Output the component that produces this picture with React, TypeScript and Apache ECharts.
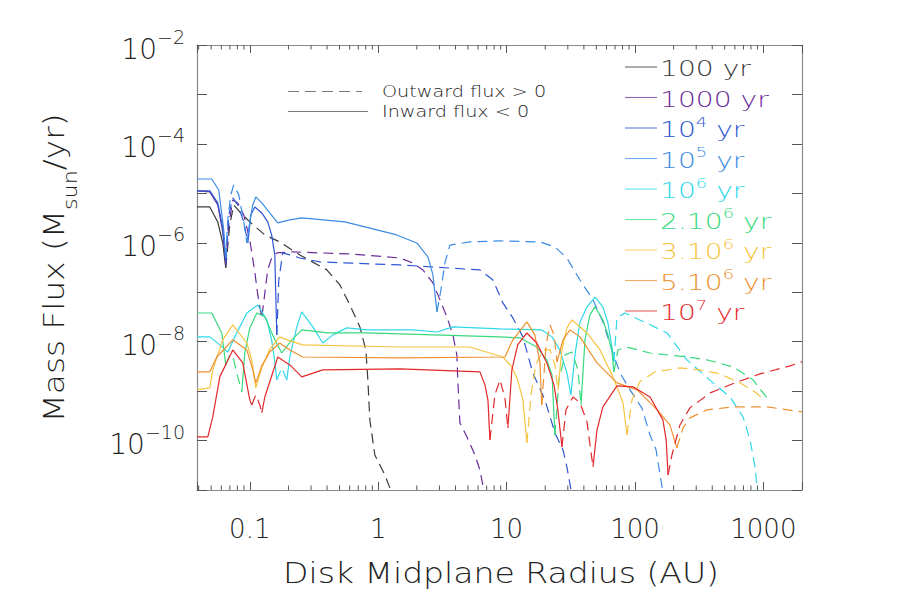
import React, { useEffect, useRef } from 'react';
import * as echarts from 'echarts';

type Pt = [number, number];

// Axis extents (AU, Msun/yr)
const X_MIN = 0.0388;
const X_MAX = 2000;
const Y_MIN = 1e-11;
const Y_MAX = 1e-2;

// Tick labels
const xTickLabels = ['0.1', '1', '10', '100', '1000'];
const yLabelExponents = [-2, -4, -6, -8, -10];
const xMinorMultipliers = [2, 3, 4, 5, 6, 7, 8, 9];
const xMinorDecades = [0.01, 0.1, 1, 10, 100, 1000];

// Legend
const legendLabels = ['100 yr', '1000 yr', '10{sup|4} yr', '10{sup|5} yr', '10{sup|6} yr', '2.10{sup|6} yr', '3.10{sup|6} yr', '5.10{sup|6} yr', '10{sup|7} yr'];
const seriesColors = ['#3a3a3a', '#6b2d9b', '#2f56d2', '#3b8be4', '#2fd8ea', '#38d97e', '#f6c440', '#ee9130', '#e2282b'];
const fluxLabels = ['Outward flux > 0', 'Inward flux < 0'];

// Solid = inward flux (<0), dashed = outward flux (>0)
const yr100Solid: Pt[][] = [
  [[0.0388, 5.3e-6], [0.0488, 5.3e-6], [0.0563, 2.64e-6], [0.0616, 9.9e-7], [0.065, 3.1e-7]],
];
const yr100Dashed: Pt[][] = [
  [[0.065, 3.1e-7], [0.0698, 2.3e-6], [0.075, 5.82e-6], [0.0836, 4.2e-6], [0.1, 2.64e-6], [0.131, 1.44e-6], [0.171, 1.04e-6], [0.2453, 5.68e-7], [0.398, 2.83e-7], [0.503, 1.41e-7], [0.602, 5.5e-8], [0.72, 1.99e-8], [0.802, 6.8e-9], [0.831, 1.69e-9], [0.861, 2.62e-10], [0.942, 5.1e-11], [1.127, 2.02e-11], [1.27, 9e-12]],
];

const yr1000Solid: Pt[][] = [
  [[0.0388, 1.12e-5], [0.0488, 1.07e-5], [0.0563, 5.82e-6], [0.0616, 1.66e-6], [0.065, 3.56e-7]],
];
const yr1000Dashed: Pt[][] = [
  [[0.065, 3.56e-7], [0.0686, 2.3e-6], [0.0737, 7.35e-6], [0.0806, 6.4e-6], [0.0898, 3.66e-6], [0.1, 1.14e-6], [0.1094, 2.57e-7], [0.1154, 8.8e-8], [0.124, 3.02e-8], [0.131, 9.7e-8], [0.138, 2.83e-7], [0.148, 4.93e-7], [0.1623, 6.24e-7], [0.2163, 6.53e-7], [0.602, 5.95e-7], [1.475, 4.93e-7], [1.862, 3.91e-7], [2.23, 2.83e-7], [2.67, 1.54e-7], [3.03, 7.0e-8], [3.43, 3.17e-8], [3.82, 1.37e-8], [4.1, 5.4e-9], [4.18, 1.47e-9], [4.33, 2.28e-10], [4.91, 1.19e-10], [5.67, 5.1e-11], [6.2, 2.55e-11], [6.7, 9e-12]],
];

const yr1e4Solid: Pt[][] = [
  [[0.0388, 1.12e-5], [0.0488, 1.12e-5], [0.0563, 6.4e-6], [0.0616, 2.0e-6], [0.065, 4.1e-7]],
  [[0.0965, 9.9e-7], [0.1018, 3.66e-6], [0.1094, 5.3e-6], [0.124, 4.01e-6], [0.138, 2.64e-6], [0.148, 1.44e-6], [0.1566, 5.68e-7], [0.1623, 1.37e-8]],
];
const yr1e4Dashed: Pt[][] = [
  [[0.065, 4.1e-7], [0.0686, 3.66e-6], [0.0737, 8.07e-6], [0.0806, 5.82e-6], [0.0898, 2.64e-6], [0.0965, 9.9e-7]],
  [[0.1623, 1.37e-8], [0.1682, 1.77e-7], [0.1807, 6.24e-7], [0.205, 5.68e-7], [0.2453, 4.93e-7], [0.351, 4.1e-7], [1.475, 3.56e-7], [6.2, 2.83e-7], [7.83, 1.77e-7], [9.36, 6.1e-8], [11.2, 3.02e-8], [13.4, 1.25e-8], [16.0, 2.34e-9], [19.9, 6.65e-10], [23.8, 1.43e-10], [27.5, 6.5e-11], [29.5, 2.94e-11], [32.0, 9e-12]],
];

const yr1e5Solid: Pt[][] = [
  [[0.0388, 1.95e-5], [0.0506, 1.95e-5], [0.0573, 1.17e-5], [0.0627, 1.82e-6], [0.065, 4.93e-7]],
  [[0.0948, 9.9e-7], [0.1, 2.64e-6], [0.1055, 5.82e-6], [0.1114, 8.45e-6], [0.124, 6.4e-6], [0.143, 4.01e-6], [0.1652, 2.52e-6], [0.205, 2.9e-6], [0.254, 3.18e-6], [0.55, 2.64e-6], [1.397, 1.44e-6], [2.0, 9.9e-7], [2.44, 5.17e-7], [2.67, 2.24e-7], [2.87, 4.0e-8]],
];
const yr1e5Dashed: Pt[][] = [
  [[0.065, 4.93e-7], [0.0674, 2.9e-6], [0.0711, 9.3e-6], [0.075, 1.48e-5], [0.0821, 9.3e-6], [0.0898, 2.64e-6], [0.0948, 9.9e-7]],
  [[2.87, 4.0e-8], [3.08, 1.11e-7], [3.31, 3.91e-7], [3.62, 9.0e-7], [5.18, 1.04e-6], [8.88, 1.09e-6], [18.2, 1.04e-6], [23.8, 8.2e-7], [29.5, 4.93e-7], [37.3, 1.77e-7], [47.1, 7.0e-8], [56.3, 2.51e-8], [66.2, 6.8e-9], [76.4, 2.34e-9], [91.5, 1.06e-9], [113, 4.58e-10], [131, 1.3e-10], [146, 6.5e-11], [165, 9e-12]],
];

const yr1e6Solid: Pt[][] = [
  [[0.0388, 1.25e-8], [0.0488, 1.25e-8], [0.0584, 8.6e-9], [0.0674, 6.2e-9], [0.0764, 1.25e-8], [0.0948, 3.8e-8], [0.1154, 5.5e-8], [0.1357, 2.75e-8], [0.148, 1.09e-8], [0.1566, 3.9e-9], [0.1623, 1.69e-9]],
  [[0.1942, 1.69e-9], [0.205, 4.9e-9], [0.2323, 1.99e-8], [0.254, 4.0e-8], [0.3097, 1.99e-8], [0.3706, 9.4e-9], [0.4436, 1.37e-8], [0.57, 1.9e-8], [0.816, 1.73e-8], [1.862, 1.73e-8], [2.87, 1.57e-8], [3.82, 1.99e-8], [8.88, 1.81e-8], [18.8, 1.73e-8], [22.6, 1.25e-8], [26.0, 6.8e-9], [29.5, 2.34e-9], [31.7, 8.4e-10], [34.1, 5.4e-9], [37.3, 2.51e-8], [42.3, 5.05e-8], [48.8, 8.0e-8], [56.3, 5.05e-8], [61.6, 2.39e-8], [66.2, 7.8e-9], [68.6, 3.9e-9]],
];
const yr1e6Dashed: Pt[][] = [
  [[0.1623, 1.69e-9], [0.1775, 2.95e-9], [0.1942, 1.69e-9]],
  [[68.6, 3.9e-9], [72.4, 3.02e-8], [83.6, 3.8e-8], [109, 2.75e-8], [178, 1.5e-8], [254, 4.28e-9], [406, 1.47e-9], [550, 7.6e-10], [695, 3.01e-10], [788, 1.03e-10], [861, 2.94e-11], [900, 9e-12]],
];

const yr2e6Solid: Pt[][] = [
  [[0.0388, 3.8e-8], [0.0506, 3.8e-8], [0.0605, 1.5e-8], [0.065, 3.39e-9]],
  [[0.0866, 9.6e-10], [0.0914, 5.9e-9], [0.1, 1.9e-8], [0.1134, 3.8e-8], [0.131, 3.17e-8], [0.1566, 1.09e-8], [0.1775, 5.9e-9], [0.2125, 1.09e-8], [0.254, 1.73e-8], [0.405, 1.5e-8], [0.816, 1.5e-8], [8.88, 1.25e-8], [12.7, 1.19e-8], [17.2, 7.8e-9], [20.6, 4.28e-9], [22.6, 2.13e-9], [23.8, 1.3e-10]],
  [[38.0, 5.26e-10], [40.8, 1.09e-8], [44.6, 3.48e-8], [48.8, 5.05e-8], [56.3, 2.75e-8], [61.6, 1.37e-8], [66.2, 6.2e-9], [68.6, 2.45e-9]],
];
const yr2e6Dashed: Pt[][] = [
  [[0.065, 3.39e-9], [0.0698, 5.4e-9], [0.075, 4.28e-9], [0.0806, 1.94e-9], [0.0866, 9.6e-10]],
  [[23.8, 1.3e-10], [25.6, 1.69e-9], [28.5, 5.4e-9], [32.3, 6.2e-9], [36.0, 2.69e-9], [38.0, 5.26e-10]],
  [[68.6, 2.45e-9], [73.7, 6.8e-9], [86.7, 7.8e-9], [131, 5.9e-9], [254, 4.9e-9], [364, 4.28e-9], [580, 3.09e-9], [831, 1.69e-9], [995, 9.2e-10], [1128, 6.05e-10]],
];

const yr3e6Solid: Pt[][] = [
  [[0.0388, 1.06e-9], [0.0488, 1.16e-9], [0.0515, 2.69e-9], [0.0616, 1.09e-8], [0.0737, 2.18e-8], [0.0948, 9.4e-9], [0.1036, 4.28e-9], [0.1114, 1.16e-9], [0.124, 2.95e-9], [0.143, 7.1e-9], [0.171, 1.25e-8], [0.205, 1.04e-8], [0.2588, 8.6e-9], [1.475, 7.8e-9], [5.18, 7.8e-9], [9.36, 4.9e-9], [11.0, 3.09e-9], [12.2, 1.69e-9], [13.4, 6.65e-10], [14.4, 9.0e-11]],
  [[25.1, 1.06e-9], [27.0, 6.8e-9], [29.5, 1.9e-8], [32.3, 2.75e-8], [42.3, 1.5e-8], [53.4, 6.8e-9], [67.4, 1.94e-9], [80.7, 5.8e-10], [86.7, 1.3e-10]],
];
const yr3e6Dashed: Pt[][] = [
  [[14.4, 9.0e-11], [15.5, 8.4e-10], [16.9, 3.39e-9], [19.2, 6.8e-9], [21.8, 6.8e-9], [23.8, 3.39e-9], [25.1, 1.06e-9]],
  [[86.7, 1.3e-10], [94.8, 6.65e-10], [109, 1.54e-9], [143, 2.45e-9], [224, 2.95e-9], [321, 2.69e-9], [460, 2.23e-9], [658, 1.47e-9], [861, 9.6e-10], [977, 7.3e-10]],
];

const yr5e6Solid: Pt[][] = [
  [[0.0388, 2.45e-9], [0.0488, 2.45e-9], [0.0553, 4.9e-9], [0.0737, 1.09e-8], [0.0948, 6.8e-9], [0.1055, 2.69e-9], [0.1114, 1.47e-9], [0.124, 3.24e-9], [0.143, 6.2e-9], [0.171, 9.4e-9], [0.205, 6.8e-9], [0.2588, 4.9e-9], [1.475, 4.7e-9], [9.71, 4.9e-9], [11.2, 1.09e-8], [14.4, 2.51e-8], [16.6, 1.37e-8], [18.2, 3.72e-9], [18.8, 5.26e-10]],
  [[24.7, 3.9e-9], [27.5, 1.09e-8], [31.2, 1.73e-8], [37.3, 1.25e-8], [50.6, 3.72e-9], [72.4, 1.47e-9], [104, 1.06e-9], [149, 4.17e-10], [187, 2.07e-10], [212, 7.1e-11]],
];
const yr5e6Dashed: Pt[][] = [
  [[18.8, 5.26e-10], [20.3, 8.6e-9], [21.8, 2.18e-8], [23.4, 1.37e-8], [24.7, 3.9e-9]],
  [[212, 7.1e-11], [237, 1.8e-10], [268, 2.88e-10], [364, 4.17e-10], [580, 4.8e-10], [1069, 4.8e-10], [2000, 3.8e-10]],
];

const yr1e7Solid: Pt[][] = [
  [[0.0388, 1.19e-10], [0.0471, 1.19e-10], [0.0515, 3.01e-10], [0.0584, 1.94e-9], [0.0737, 6.8e-9], [0.0882, 3.72e-9], [0.1, 6.65e-10], [0.1036, 5.26e-10]],
  [[0.124, 3.63e-10], [0.131, 7.6e-10], [0.1652, 4.9e-9], [0.205, 3.39e-9], [0.254, 1.94e-9], [0.3706, 2.69e-9], [1.475, 2.81e-9], [6.2, 2.45e-9], [6.78, 1.34e-9], [7.16, 6.65e-10], [7.42, 1.03e-10]],
  [[10.24, 1.8e-10], [11.0, 2.69e-9], [12.2, 8.6e-9], [14.4, 1.5e-8], [17.2, 9.4e-9], [20.6, 3.72e-9], [23.4, 1.34e-9], [25.1, 4.17e-10], [27.0, 7.45e-11]],
  [[47.1, 2.94e-11], [50.6, 1.64e-10], [56.3, 4.8e-10], [72.4, 1.28e-9], [96.5, 1.22e-9], [131, 7.6e-10], [165, 2.62e-10], [175, 1.03e-10], [181, 2.02e-11]],
];
const yr1e7Dashed: Pt[][] = [
  [[0.1036, 5.26e-10], [0.1114, 8.4e-10], [0.1197, 5.26e-10], [0.124, 3.63e-10]],
  [[7.42, 1.03e-10], [8.11, 8.4e-10], [8.88, 1.69e-9], [9.71, 7.3e-10], [10.24, 1.8e-10]],
  [[27.0, 7.45e-11], [29.0, 4.17e-10], [32.9, 7.6e-10], [37.3, 5.8e-10], [42.3, 2.39e-10], [47.1, 2.94e-11]],
  [[181, 2.02e-11], [194, 5.1e-11], [224, 2.07e-10], [268, 4.58e-10], [385, 9.2e-10], [601, 1.47e-9], [942, 2.23e-9], [1614, 3.24e-9], [2000, 3.9e-9]],
];

const solidSets = [yr100Solid, yr1000Solid, yr1e4Solid, yr1e5Solid, yr1e6Solid, yr2e6Solid, yr3e6Solid, yr5e6Solid, yr1e7Solid];
const dashedSets = [yr100Dashed, yr1000Dashed, yr1e4Dashed, yr1e5Dashed, yr1e6Dashed, yr2e6Dashed, yr3e6Dashed, yr5e6Dashed, yr1e7Dashed];

const FONT = "'DejaVu Sans', 'Liberation Sans', sans-serif";
const WEIGHT = 300;
const TEXT = '#222222';
const FRAME = '#8a8a8a';
const TICK = '#555555';

const GRID = { left: 197, top: 45, width: 605, height: 445 };

function isPow10(v: number) {
  const l = Math.log10(v);
  return Math.abs(l - Math.round(l)) < 1e-6;
}

export default function App() {
  const ref = useRef<HTMLDivElement>(null);

  useEffect(() => {
    if (!ref.current) return;
    const chart = echarts.init(ref.current, undefined, { renderer: 'svg' });

    const series: any[] = [];
    legendLabels.forEach((name, i) => {
      solidSets[i].forEach((seg) => {
        series.push({
          type: 'line', name, data: seg, xAxisIndex: 0, yAxisIndex: 0,
          showSymbol: false, symbol: 'none', silent: true, z: 3,
          lineStyle: { color: seriesColors[i], width: 1.2, type: 'solid' },
        });
      });
      dashedSets[i].forEach((seg) => {
        series.push({
          type: 'line', name, data: seg, xAxisIndex: 0, yAxisIndex: 0,
          showSymbol: false, symbol: 'none', silent: true, z: 3,
          lineStyle: { color: seriesColors[i], width: 1.2, type: [10, 6] },
        });
      });
    });

    const minorTicks: number[] = [];
    xMinorDecades.forEach((d) => xMinorMultipliers.forEach((m) => {
      const v = m * d;
      if (v > X_MIN && v < X_MAX) minorTicks.push(v);
    }));
    series.push({
      type: 'custom', silent: true, xAxisIndex: 0, yAxisIndex: 0, z: 4,
      data: minorTicks.map((v) => [v, Y_MIN]),
      encode: { x: 0, y: 1 },
      renderItem: (params: any, api: any) => {
        const x = api.value(0);
        const pb = api.coord([x, Y_MIN]);
        const pt = api.coord([x, Y_MAX]);
        return {
          type: 'group',
          children: [
            { type: 'line', shape: { x1: pb[0], y1: pb[1], x2: pb[0], y2: pb[1] - 4.5 }, style: { stroke: TICK, lineWidth: 1 } },
            { type: 'line', shape: { x1: pt[0], y1: pt[1], x2: pt[0], y2: pt[1] + 4.5 }, style: { stroke: TICK, lineWidth: 1 } },
          ],
        };
      },
    });

    const xAxisBase = {
      type: 'log', logBase: 10, min: X_MIN, max: X_MAX, splitNumber: 10,
      axisLine: { show: true, onZero: false, lineStyle: { color: FRAME, width: 1.2 } },
      axisTick: { show: true, inside: true, length: 8, lineStyle: { color: TICK, width: 1 } },
      splitLine: { show: false }, minorTick: { show: false }, minorSplitLine: { show: false },
    };
    const yAxisBase = {
      type: 'log', logBase: 10, min: Y_MIN, max: Y_MAX, splitNumber: 20,
      axisLine: { show: true, onZero: false, lineStyle: { color: FRAME, width: 1.2 } },
      axisTick: { show: true, inside: true, length: 10, lineStyle: { color: TICK, width: 1 } },
      splitLine: { show: false },
    };

    const graphics: any[] = [];
    // Y title
    graphics.push({
      type: 'text', x: 60, y: 268, rotation: Math.PI / 2, scaleX: 1.17,
      style: {
        text: '{base|Mass Flux (M}{sub|sun}{base|/yr)}',
        align: 'center', verticalAlign: 'middle', fill: TEXT,
        rich: {
          base: { fontSize: 28, fontWeight: WEIGHT, lineHeight: 40, verticalAlign: 'top', fontFamily: FONT, fill: TEXT },
          sub: { fontSize: 19, fontWeight: WEIGHT, lineHeight: 19, verticalAlign: 'bottom', fontFamily: FONT, fill: TEXT },
        },
      },
    });
    // X title
    graphics.push({
      type: 'text', x: 501, y: 573, scaleX: 1.18,
      style: { text: 'Disk Midplane Radius (AU)', align: 'center', verticalAlign: 'middle', fill: TEXT, fontSize: 28, fontWeight: WEIGHT, fontFamily: FONT },
    });
    // Flux-sign legend
    const fluxRows = [91.5, 111.5];
    fluxLabels.forEach((t, i) => {
      graphics.push({
        type: 'line', shape: { x1: 288, y1: fluxRows[i], x2: i === 0 ? 362 : 368, y2: fluxRows[i] },
        style: { stroke: '#7a7a7a', lineWidth: 1.2, lineDash: i === 0 ? [11, 6] : null },
      });
      graphics.push({
        type: 'text', x: 382, y: fluxRows[i], scaleX: 1.2,
        style: { text: t, align: 'left', verticalAlign: 'middle', fill: TEXT, fontSize: 16, fontWeight: WEIGHT, fontFamily: FONT },
      });
    });
    // Time legend
    legendLabels.forEach((t, i) => {
      const y = 67 + i * 30.5;
      graphics.push({
        type: 'line', shape: { x1: 625, y1: y, x2: 657, y2: y },
        style: { stroke: seriesColors[i], lineWidth: 1.1, opacity: 0.75 },
      });
      const text = t.includes('{sup|') ? t.replace(/^([^{]*)\{sup\|(\d+)\}(.*)$/, '{base|$1}{sup|$2}{base|$3}') : `{base|${t}}`;
      graphics.push({
        type: 'text', x: 660, y, scaleX: 1.28,
        style: {
          text, align: 'left', verticalAlign: 'middle', fill: seriesColors[i],
          rich: {
            base: { fontSize: 22, fontWeight: WEIGHT, lineHeight: 26, verticalAlign: 'bottom', fontFamily: FONT, fill: seriesColors[i] },
            sup: { fontSize: 14, fontWeight: WEIGHT, lineHeight: 14, verticalAlign: 'top', fontFamily: FONT, fill: seriesColors[i] },
          },
        },
      });
    });

    chart.setOption({
      animation: false,
      backgroundColor: '#ffffff',
      grid: { ...GRID, containLabel: false },
      xAxis: [
        {
          ...xAxisBase, position: 'bottom',
          axisLabel: {
            show: true, margin: 26, color: TEXT, fontSize: 26, fontWeight: WEIGHT, fontFamily: FONT,
            formatter: (v: number) => {
              if (!isPow10(v)) return '';
              const e = Math.round(Math.log10(v));
              const s = e < 0 ? Math.pow(10, e).toFixed(-e) : String(Math.pow(10, e));
              return xTickLabels.includes(s) ? s : '';
            },
          },
        },
        { ...xAxisBase, position: 'top', axisLabel: { show: false } },
      ],
      yAxis: [
        {
          ...yAxisBase, position: 'left',
          axisLabel: {
            show: true, margin: 12, color: TEXT, fontFamily: FONT,
            rich: {
              base: { fontSize: 28, fontWeight: WEIGHT, lineHeight: 36, verticalAlign: 'bottom', fontFamily: FONT, color: TEXT },
              sup: { fontSize: 19, fontWeight: WEIGHT, lineHeight: 19, verticalAlign: 'top', fontFamily: FONT, color: TEXT },
            },
            formatter: (v: number) => {
              if (!isPow10(v)) return '';
              const e = Math.round(Math.log10(v));
              if (!yLabelExponents.includes(e)) return '';
              return `{base|10}{sup|−${Math.abs(e)}}`;
            },
          },
        },
        { ...yAxisBase, position: 'right', axisLabel: { show: false } },
      ],
      series,
      graphic: graphics,
    });

    return () => chart.dispose();
  }, []);

  return <div ref={ref} style={{ position: 'fixed', left: 0, top: 0, width: 910, height: 594, background: '#fff' }} />;
}
